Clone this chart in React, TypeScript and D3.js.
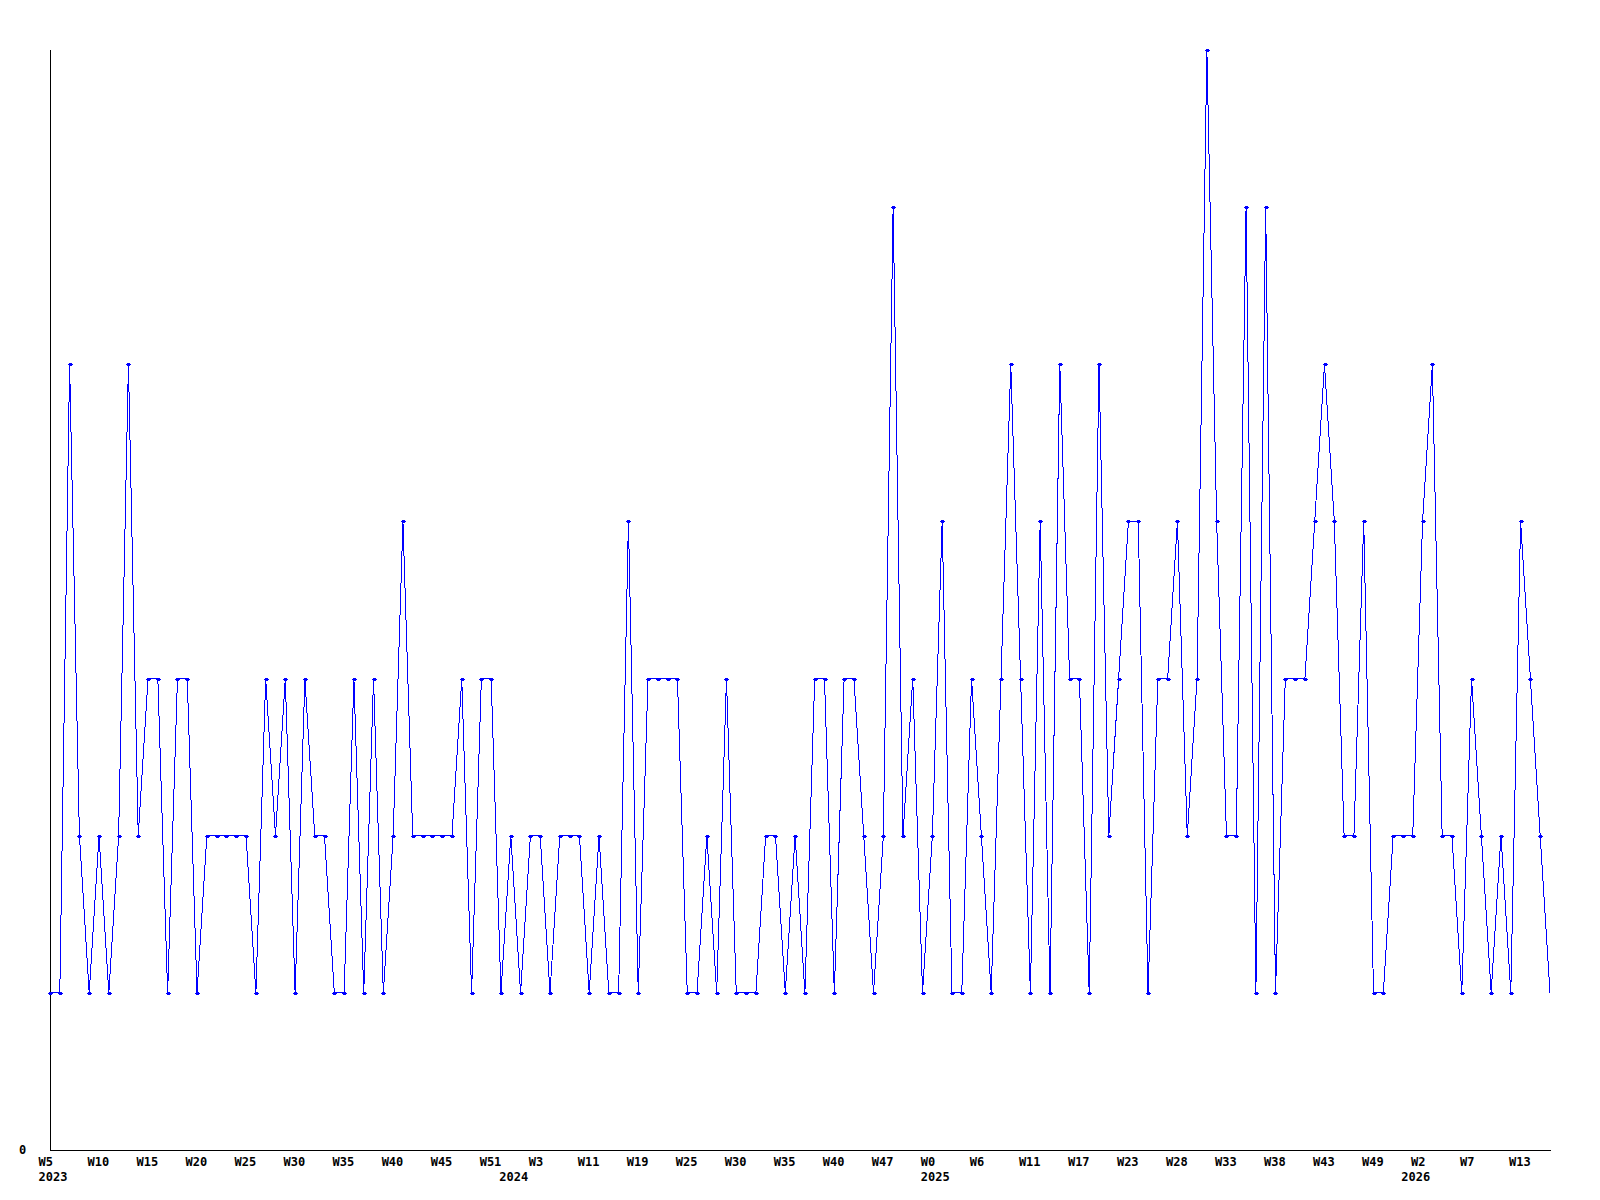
import React from "react";
import * as d3 from "d3";

// Weekly counts (one value per plotted week)
const values: number[] = [
  1, 1, 5, 2, 1, 2, 1, 2, 5, 2,
  3, 3, 1, 3, 3, 1, 2, 2, 2, 2,
  2, 1, 3, 2, 3, 1, 3, 2, 2, 1,
  1, 3, 1, 3, 1, 2, 4, 2, 2, 2,
  2, 2, 3, 1, 3, 3, 1, 2, 1, 2,
  2, 1, 2, 2, 2, 1, 2, 1, 1, 4,
  1, 3, 3, 3, 3, 1, 1, 2, 1, 3,
  1, 1, 1, 2, 2, 1, 2, 1, 3, 3,
  1, 3, 3, 2, 1, 2, 6, 2, 3, 1,
  2, 4, 1, 1, 3, 2, 1, 3, 5, 3,
  1, 4, 1, 5, 3, 3, 1, 5, 2, 3,
  4, 4, 1, 3, 3, 4, 2, 3, 7, 4,
  2, 2, 6, 1, 6, 1, 3, 3, 3, 4,
  5, 4, 2, 2, 4, 1, 1, 2, 2, 2,
  4, 5, 2, 2, 1, 3, 2, 1, 2, 1,
  4, 3, 2, 1,
];

// Week tick labels, one every 5 weeks
const weekTicks: string[] = [
  "W5", "W10", "W15", "W20", "W25", "W30", "W35", "W40", "W45", "W51",
  "W3", "W11", "W19", "W25", "W30", "W35", "W40", "W47", "W0", "W6",
  "W11", "W17", "W23", "W28", "W33", "W38", "W43", "W49", "W2", "W7",
  "W13",
];
const tickEvery = 5;

// Year labels and the week index where each year starts
const yearLabels: string[] = ["2023", "2024", "2025", "2026"];
const yearStartIndex: number[] = [0, 47, 90, 139];

const yZeroLabel = "0";

const W = 1600;
const H = 1200;
const left = 50;
const right = 1550;
const top = 50;
const bottom = 1150;
const yMax = 7;

export default function App() {
  const x = d3.scaleLinear().domain([0, values.length - 1]).range([left, right]);
  const y = d3.scaleLinear().domain([0, yMax]).range([bottom, top]);

  const line = d3
    .line<number>()
    .x((_, i) => x(i))
    .y((d) => y(d));

  const font = "'DejaVu Sans Mono', monospace";

  return (
    <svg
      width={W}
      height={H}
      style={{ position: "absolute", left: 0, top: 0, background: "#fff" }}
    >
      <rect x={0} y={0} width={W} height={H} fill="#fff" />
      {/* axes */}
      <line x1={left + 0.5} x2={left + 0.5} y1={top} y2={bottom + 1} stroke="#000" strokeWidth={1} shapeRendering="crispEdges" />
      <line x1={left} x2={right + 1} y1={bottom + 0.5} y2={bottom + 0.5} stroke="#000" strokeWidth={1} shapeRendering="crispEdges" />

      {/* data line */}
      <path
        d={line(values) || ""}
        fill="none"
        stroke="#0000ff"
        strokeWidth={1}
        shapeRendering="crispEdges"
      />
      {/* markers */}
      {values.slice(0, values.length - 1).map((v, i) => {
        const cx = Math.round(x(i));
        const cy = Math.round(y(v));
        return (
          <g key={i} fill="#0000ff" shapeRendering="crispEdges">
            <rect x={cx - 2} y={cy} width={5} height={1} />
            <rect x={cx - 1} y={cy - 1} width={3} height={3} />
          </g>
        );
      })}

      {/* y label */}
      <text x={19} y={y(0) + 4} fontFamily={font} fontWeight="bold" fontSize={12} fill="#000">
        {yZeroLabel}
      </text>

      {/* x tick labels */}
      {weekTicks.map((t, k) => (
        <text
          key={"t" + k}
          x={x(k * tickEvery) - 11.5}
          y={1166}
          fontFamily={font}
          fontWeight="bold"
          fontSize={12}
          fill="#000"
        >
          {t}
        </text>
      ))}
      {yearLabels.map((t, k) => (
        <text
          key={"y" + k}
          x={x(yearStartIndex[k]) - 11.5}
          y={1181}
          fontFamily={font}
          fontWeight="bold"
          fontSize={12}
          fill="#000"
        >
          {t}
        </text>
      ))}
    </svg>
  );
}
